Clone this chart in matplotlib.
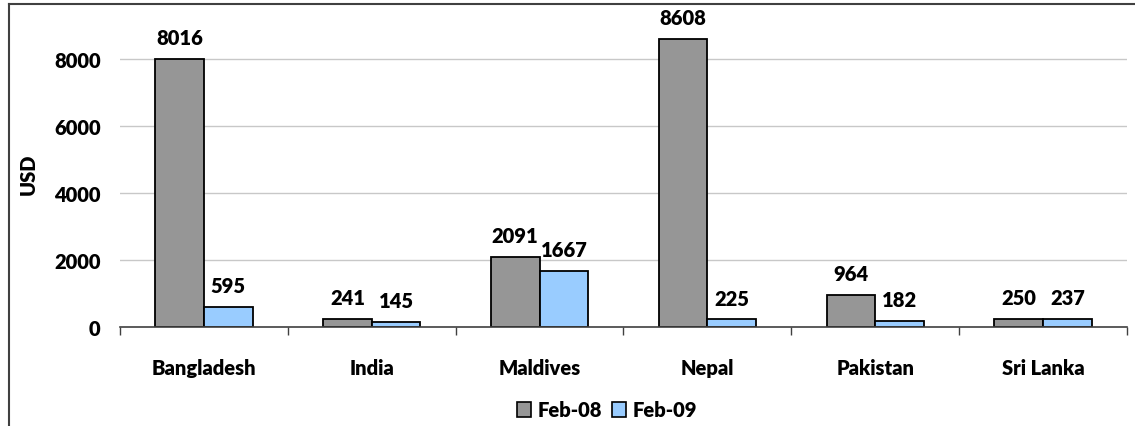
import matplotlib
matplotlib.use("Agg")
import matplotlib.pyplot as plt
import numpy as np
from matplotlib.lines import Line2D
from matplotlib.patches import Patch

categories = ["Bangladesh", "India", "Maldives", "Nepal", "Pakistan", "Sri Lanka"]
feb08 = [8016, 241, 2091, 8608, 964, 250]
feb09 = [595, 145, 1667, 225, 182, 237]
series_names = ["Feb-08", "Feb-09"]
yticks = [0, 2000, 4000, 6000, 8000]

plt.rcParams['font.family'] = ['Lato', 'DejaVu Sans']
plt.rcParams['font.weight'] = 'bold'
FS = 14.5

W, H = 1135, 427
fig = plt.figure(figsize=(W / 100, H / 100), dpi=100)
ax = fig.add_axes([120 / W, 1 - 328 / H, (1127 - 120) / W, (328 - 20) / H])

x = np.arange(len(categories))
bw = 0.29
b1 = ax.bar(x - bw / 2, feb08, bw, color="#969696", edgecolor="black", linewidth=1.3, zorder=3)
b2 = ax.bar(x + bw / 2, feb09, bw, color="#99CCFF", edgecolor="black", linewidth=1.3, zorder=3)

for bars, vals in ((b1, feb08), (b2, feb09)):
    for r, v in zip(bars, vals):
        ax.annotate(str(v), (r.get_x() + r.get_width() / 2, r.get_height()),
                    xytext=(0, 8.5), textcoords="offset points", ha="center", va="bottom",
                    fontsize=FS, fontweight="heavy")

ax.set_xlim(-0.5, len(categories) - 0.5)
ax.set_ylim(0, 9200)
ax.set_yticks(yticks)
ax.set_yticklabels([str(t) for t in yticks], fontsize=FS, fontweight="heavy")
ax.tick_params(axis="y", length=0, pad=14)
ax.set_xticks(x)
ax.set_xticklabels(categories, fontsize=FS, fontweight="heavy")
ax.set_xticks(np.arange(len(categories) + 1) - 0.5, minor=True)
ax.tick_params(axis="x", which="major", length=0, pad=22)
ax.tick_params(axis="x", which="minor", length=6, width=1, color="#404040", direction="out")
ax.yaxis.grid(True, color="#c8c8c8", linewidth=1, zorder=0)
ax.set_axisbelow(True)
for s in ("top", "right", "left"):
    ax.spines[s].set_visible(False)
ax.spines["bottom"].set_color("#404040")
ax.spines["bottom"].set_linewidth(1.2)
ax.spines["bottom"].set_zorder(4)
ax.set_ylabel("USD", fontsize=FS, fontweight="heavy", labelpad=12)

handles = [Patch(facecolor="#969696", edgecolor="black", linewidth=1.2),
           Patch(facecolor="#99CCFF", edgecolor="black", linewidth=1.2)]
fig.legend(handles, series_names, loc="center", bbox_to_anchor=(607 / W, 1 - 411 / H),
           ncol=2, frameon=False, handlelength=0.7, handleheight=0.7,
           handletextpad=0.3, columnspacing=0.5, prop={"weight": "heavy", "size": FS})

# outer frame (left and top edges)
fig.add_artist(Line2D([9 / W, 9 / W], [0, 1 - 5 / H], color="#404040", linewidth=1.5))
fig.add_artist(Line2D([9 / W, 1], [1 - 5 / H, 1 - 5 / H], color="#404040", linewidth=1.5))

fig.savefig("out.png", dpi=100)
